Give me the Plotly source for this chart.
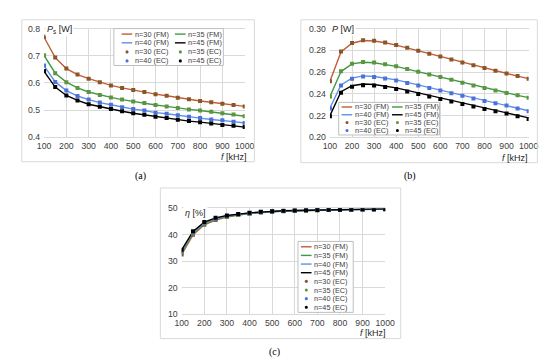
import plotly.graph_objects as go

W, H = 550, 357

# ---------------- data ----------------
freq = [100, 150, 200, 250, 300, 350, 400, 450, 500, 550, 600, 650, 700, 750, 800, 850, 900, 950, 1000]
series_names = ["n=30", "n=35", "n=40", "n=45"]

# (a) Ps [W]
ps_fm = {
    "n=30": [0.768, 0.693, 0.653, 0.631, 0.616, 0.603, 0.591, 0.582, 0.574, 0.567, 0.559, 0.553, 0.546, 0.540, 0.534, 0.529, 0.524, 0.519, 0.514],
    "n=35": [0.701, 0.636, 0.603, 0.582, 0.567, 0.556, 0.547, 0.539, 0.532, 0.526, 0.519, 0.514, 0.508, 0.503, 0.499, 0.494, 0.489, 0.484, 0.478],
    "n=40": [0.663, 0.604, 0.572, 0.552, 0.539, 0.528, 0.520, 0.511, 0.504, 0.499, 0.491, 0.487, 0.481, 0.476, 0.471, 0.466, 0.463, 0.458, 0.453],
    "n=45": [0.643, 0.585, 0.554, 0.536, 0.522, 0.513, 0.504, 0.496, 0.489, 0.483, 0.476, 0.471, 0.465, 0.460, 0.456, 0.451, 0.446, 0.443, 0.438],
}
ps_ec = {
    "n=30": [0.770, 0.694, 0.653, 0.631, 0.616, 0.603, 0.591, 0.582, 0.574, 0.567, 0.559, 0.553, 0.546, 0.540, 0.534, 0.529, 0.524, 0.519, 0.514],
    "n=35": [0.702, 0.636, 0.603, 0.582, 0.567, 0.556, 0.547, 0.539, 0.532, 0.526, 0.519, 0.514, 0.508, 0.503, 0.499, 0.494, 0.489, 0.484, 0.478],
    "n=40": [0.664, 0.604, 0.572, 0.552, 0.539, 0.528, 0.520, 0.511, 0.504, 0.499, 0.491, 0.487, 0.481, 0.476, 0.471, 0.466, 0.463, 0.458, 0.453],
    "n=45": [0.644, 0.585, 0.554, 0.536, 0.522, 0.513, 0.504, 0.496, 0.489, 0.483, 0.476, 0.471, 0.465, 0.460, 0.456, 0.451, 0.446, 0.443, 0.438],
}

# (b) P [W]
p_fm = {
    "n=30": [0.2515, 0.2785, 0.2865, 0.2890, 0.2885, 0.2870, 0.2848, 0.2822, 0.2796, 0.2768, 0.2742, 0.2715, 0.2688, 0.2661, 0.2636, 0.2611, 0.2587, 0.2563, 0.2540],
    "n=35": [0.2375, 0.2605, 0.2675, 0.2690, 0.2686, 0.2672, 0.2652, 0.2627, 0.2603, 0.2577, 0.2553, 0.2528, 0.2502, 0.2477, 0.2454, 0.2431, 0.2408, 0.2386, 0.2365],
    "n=40": [0.2270, 0.2482, 0.2545, 0.2565, 0.2560, 0.2547, 0.2528, 0.2505, 0.2481, 0.2457, 0.2434, 0.2410, 0.2386, 0.2362, 0.2339, 0.2317, 0.2296, 0.2270, 0.2245],
    "n=45": [0.2200, 0.2420, 0.2475, 0.2490, 0.2486, 0.2473, 0.2455, 0.2432, 0.2409, 0.2385, 0.2362, 0.2339, 0.2316, 0.2293, 0.2271, 0.2250, 0.2229, 0.2205, 0.2180],
}
p_ec = {
    "n=30": [0.2515, 0.2790, 0.2868, 0.2892, 0.2887, 0.2872, 0.2850, 0.2823, 0.2797, 0.2769, 0.2743, 0.2716, 0.2689, 0.2662, 0.2637, 0.2612, 0.2588, 0.2563, 0.2540],
    "n=35": [0.2375, 0.2608, 0.2677, 0.2692, 0.2687, 0.2673, 0.2653, 0.2628, 0.2604, 0.2578, 0.2554, 0.2529, 0.2503, 0.2478, 0.2455, 0.2432, 0.2409, 0.2387, 0.2365],
    "n=40": [0.2265, 0.2478, 0.2540, 0.2560, 0.2555, 0.2542, 0.2523, 0.2500, 0.2477, 0.2453, 0.2430, 0.2406, 0.2382, 0.2358, 0.2335, 0.2313, 0.2292, 0.2266, 0.2241],
    "n=45": [0.2195, 0.2410, 0.2465, 0.2480, 0.2476, 0.2463, 0.2445, 0.2422, 0.2399, 0.2375, 0.2352, 0.2329, 0.2306, 0.2283, 0.2261, 0.2240, 0.2219, 0.2195, 0.2170],
}

# (c) eta [%]
eta_fm = {
    "n=30": [32.6, 40.0, 43.8, 45.6, 46.7, 47.5, 48.0, 48.4, 48.7, 48.9, 49.1, 49.2, 49.3, 49.4, 49.5, 49.5, 49.6, 49.6, 49.7],
    "n=35": [33.3, 40.5, 44.2, 45.9, 46.9, 47.6, 48.1, 48.5, 48.8, 49.0, 49.1, 49.2, 49.3, 49.4, 49.5, 49.6, 49.6, 49.7, 49.7],
    "n=40": [33.8, 40.9, 44.5, 46.1, 47.1, 47.8, 48.2, 48.6, 48.8, 49.0, 49.2, 49.3, 49.4, 49.5, 49.5, 49.6, 49.6, 49.7, 49.7],
    "n=45": [34.3, 41.3, 44.8, 46.4, 47.3, 47.9, 48.3, 48.6, 48.9, 49.1, 49.2, 49.3, 49.4, 49.5, 49.5, 49.6, 49.7, 49.7, 49.8],
}
eta_ec = {
    "n=30": [32.6, 40.0, 43.8, 45.6, 46.7, 47.5, 48.0, 48.4, 48.7, 48.9, 49.1, 49.2, 49.3, 49.4, 49.5, 49.5, 49.6, 49.6, 49.7],
    "n=35": [33.3, 40.5, 44.2, 45.9, 46.9, 47.6, 48.1, 48.5, 48.8, 49.0, 49.1, 49.2, 49.3, 49.4, 49.5, 49.6, 49.6, 49.7, 49.7],
    "n=40": [33.8, 40.9, 44.5, 46.1, 47.1, 47.8, 48.2, 48.6, 48.8, 49.0, 49.2, 49.3, 49.4, 49.5, 49.5, 49.6, 49.6, 49.7, 49.7],
    "n=45": [34.4, 41.4, 44.9, 46.5, 47.3, 47.9, 48.3, 48.7, 48.9, 49.1, 49.2, 49.3, 49.4, 49.5, 49.5, 49.6, 49.7, 49.7, 49.8],
}

x_ticks = [100, 200, 300, 400, 500, 600, 700, 800, 900, 1000]
ya_ticks = [0.4, 0.5, 0.6, 0.7, 0.8]
yb_ticks = [0.20, 0.22, 0.24, 0.26, 0.28, 0.30]
yc_ticks = [10, 20, 30, 40, 50]
panel_labels = ["(a)", "(b)", "(c)"]

# ---------------- style ----------------
line_colors = {"n=30": "#BF5E35", "n=35": "#3F9A43", "n=40": "#5E8FEA", "n=45": "#000000"}
mark_colors = {"n=30": "#8A5527", "n=35": "#5E9440", "n=40": "#4B72DA", "n=45": "#000000"}
FONT = "Liberation Sans, Arial, sans-serif"
TICKC = "#404040"
GRID = "#D9D9D9"
TICKSIZE = 8.7


def px(x):
    return x / W


def py(y):
    return 1 - y / H


fig = go.Figure()

panels = [
    ("", ps_fm, ps_ec, (30, 237), (16, 128), (0.4, 0.8), ya_ticks, ".1f"),
    ("2", p_fm, p_ec, (325, 530), (16, 128), (0.20, 0.30), yb_ticks, ".2f"),
    ("3", eta_fm, eta_ec, (172, 382), (201, 310), (10, 50), yc_ticks, "d"),
]

layout = dict(
    width=W, height=H, margin=dict(l=0, r=0, t=0, b=0),
    paper_bgcolor="white", plot_bgcolor="white", showlegend=False,
    font=dict(family=FONT, size=TICKSIZE, color=TICKC),
)

for suf, fm, ec, (x0, x1), (yt, yb), yr, yt_list, fmt in panels:
    xa, ya = "x" + suf, "y" + suf
    for n in series_names:
        fig.add_trace(go.Scatter(x=freq, y=fm[n], mode="lines", xaxis=xa, yaxis=ya,
                                 line=dict(color=line_colors[n], width=1.4), name=n + " (FM)"))
    for n in series_names:
        fig.add_trace(go.Scatter(x=freq, y=ec[n], mode="markers", xaxis=xa, yaxis=ya,
                                 marker=dict(color=mark_colors[n], size=4, symbol="square"),
                                 name=n + " (EC)"))
    layout["xaxis" + suf] = dict(
        domain=[px(x0), px(x1)], range=[100, 1000], anchor=ya, tickvals=x_ticks,
        showgrid=True, gridcolor=GRID, gridwidth=1, zeroline=False,
        showline=True, linecolor=GRID, linewidth=1, mirror=True, ticks="",
        tickfont=dict(family=FONT, size=TICKSIZE, color=TICKC), fixedrange=True,
    )
    layout["yaxis" + suf] = dict(
        domain=[py(yb), py(yt)], range=list(yr), anchor=xa, tickvals=yt_list,
        tickformat=fmt, showgrid=True, gridcolor=GRID, gridwidth=1, zeroline=False,
        showline=False, ticks="", ticklabelstandoff=3,
        tickfont=dict(family=FONT, size=TICKSIZE, color=TICKC), fixedrange=True,
    )

fig.update_layout(**layout)

shapes = []
annotations = []

# panel frames
for (bx0, by0, bx1, by1) in [(7, 7, 247, 153), (295, 7, 539, 154), (150, 180, 398, 335)]:
    shapes.append(dict(type="rect", xref="paper", yref="paper",
                       x0=px(bx0), x1=px(bx1), y0=py(by1), y1=py(by0),
                       line=dict(color="#D9D9D9", width=1), fillcolor="rgba(0,0,0,0)"))


def ann(x, y, text, size=8, xanchor="left", family=FONT, color="#262626", bg=None):
    d = dict(x=px(x), y=py(y), xref="paper", yref="paper", text=text, showarrow=False,
             xanchor=xanchor, yanchor="middle", font=dict(family=family, size=size, color=color))
    if bg:
        d["bgcolor"] = bg
    annotations.append(d)


# axis titles
ann(30.5, 17, "<i>P</i><sub>s</sub> [W]", size=9, bg="white")
ann(325.5, 16.5, "<i>P</i> [W]", size=9, bg="white")
ann(173.5, 206, "<i>η</i> [%]", size=9, bg="white")
ann(241, 148.5, "<i>f</i> [kHz]", size=9, xanchor="right")
ann(531, 149.5, "<i>f</i> [kHz]", size=9, xanchor="right")
ann(385, 329.5, "<i>f</i> [kHz]", size=9, xanchor="right")

# panel labels
for (lx, ly), lab in zip([(130, 168), (408, 168), (268, 349)], panel_labels):
    ann(lx, ly, lab, size=10, xanchor="center", family="Liberation Serif, Times New Roman, serif", color="#000000")


def legend(box, entries, lsize=7.3):
    bx0, by0, bx1, by1 = box
    shapes.append(dict(type="rect", xref="paper", yref="paper",
                       x0=px(bx0), x1=px(bx1), y0=py(by1), y1=py(by0),
                       line=dict(color="#BFBFBF", width=1), fillcolor="white"))
    for (n, kind, lx, ly) in entries:
        if kind == "FM":
            shapes.append(dict(type="line", xref="paper", yref="paper",
                               x0=px(lx), x1=px(lx + 11), y0=py(ly), y1=py(ly),
                               line=dict(color=line_colors[n], width=1.4)))
        else:
            shapes.append(dict(type="circle", xref="paper", yref="paper",
                               x0=px(lx + 4), x1=px(lx + 7.2), y0=py(ly + 1.6), y1=py(ly - 1.6),
                               line=dict(width=0), fillcolor=mark_colors[n]))
        ann(lx + 11.5, ly, f"{n} ({kind})", size=lsize, color="#404040")


order_a = [("n=30", "FM"), ("n=35", "FM"), ("n=40", "FM"), ("n=45", "FM"),
           ("n=30", "EC"), ("n=35", "EC"), ("n=40", "EC"), ("n=45", "EC")]

# legend (a): 2 columns
rows_a = [21.7, 30.7, 40.0, 49.3]
ent = []
for i, (n, k) in enumerate(order_a):
    ent.append((n, k, [110, 165][i % 2], rows_a[i // 2]))
legend((102, 16, 215, 54), ent)

# legend (b)
rows_b = [96.7, 104.7, 112.7, 120.9]
ent = []
for i, (n, k) in enumerate(order_a):
    ent.append((n, k, [337, 389][i % 2], rows_b[i // 2]))
legend((334, 92, 438, 125.5), ent)

# legend (c): single column
ent = []
for i, (n, k) in enumerate(order_a):
    ent.append((n, k, 295, 240.5 + i * 8.9))
legend((292, 235, 349, 308), ent)

fig.update_layout(shapes=shapes, annotations=annotations)

fig.write_html("out.html")
